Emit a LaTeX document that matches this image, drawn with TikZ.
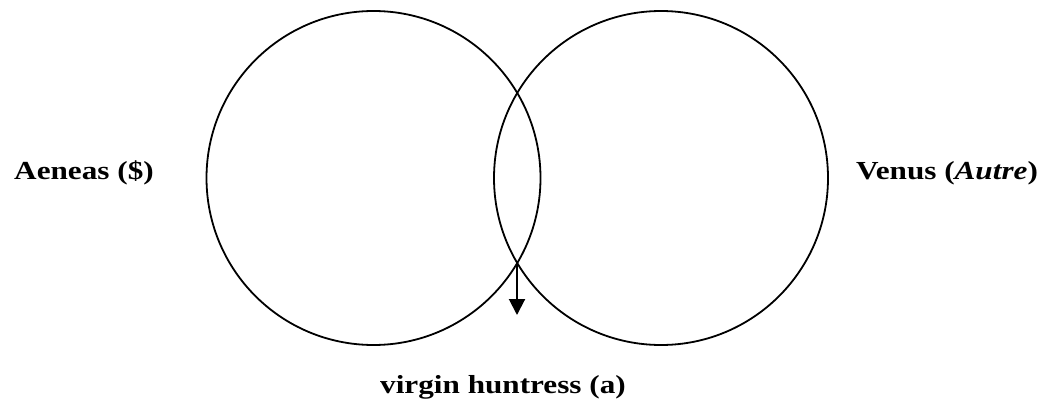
\documentclass[tikz,border=0pt]{standalone}
\usepackage{fontspec}
\setmainfont{Liberation Serif}[FakeStretch=1.2]
\usetikzlibrary{arrows.meta}
\begin{document}
\begin{tikzpicture}[x=1pt,y=1pt,
  ring/.style={draw=black,line width=1.8pt,circle,minimum size=334pt,inner sep=0pt},
  lbl/.style={font=\fontsize{26}{30}\selectfont\bfseries,anchor=base,inner sep=0pt},
  pointer/.style={line width=2pt,-{Triangle[length=16pt,width=16pt]}}]
\useasboundingbox (0,0) rectangle (1048,408);
\node[ring] (L) at (373.5,230) {};
\node[ring] (R) at (661,230) {};
\coordinate (meet) at (517,147);
\coordinate (tip) at (517,93);
\draw[pointer] (meet) -- (tip);
\node[lbl] (aeneas) at (84,229) {Aeneas (\$)};
\node[lbl] (venus) at (947,229) {Venus (\textit{Autre})};
\node[lbl] (virgin) at (503,15) {virgin huntress (a)};
\end{tikzpicture}
\end{document}
